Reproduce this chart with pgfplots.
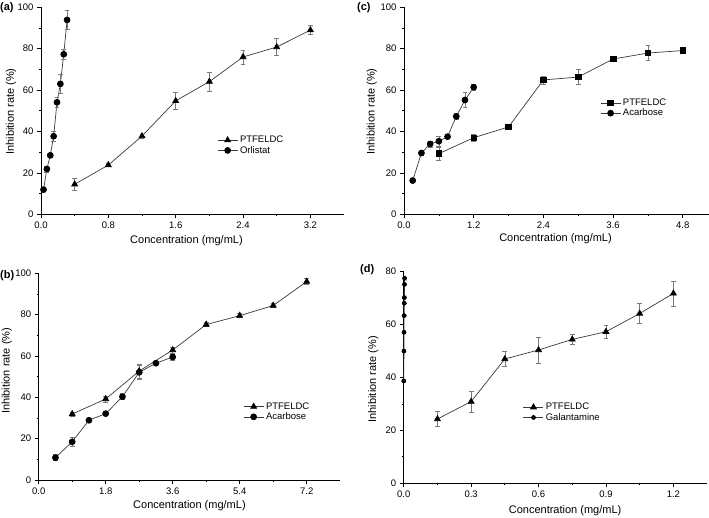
\documentclass[border=0pt]{standalone}
\usepackage{fontspec}
\setmainfont{Liberation Sans}
\usepackage{pgfplots}
\pgfplotsset{compat=1.18}
\definecolor{linegray}{HTML}{3A3A3A}
\definecolor{errgray}{HTML}{7A7A7A}

\pgfplotsset{
  panel/.style={
    scale only axis, axis lines*=left, ymin=0, xmin=0, clip=false,
    anchor=south west,
    tick align=outside, major tick length=4pt, minor tick length=2pt,
    minor x tick num=1, minor y tick num=1,
    axis line style={line width=0.7pt, black},
    every tick/.style={line width=0.7pt, black},
    tick label style={font=\fontsize{9.5}{11}\selectfont},
    label style={font=\fontsize{11}{13}\selectfont},
    /pgf/number format/assume math mode=true,
    x tick label style={/pgf/number format/.cd, fixed, fixed zerofill, precision=1, /tikz/.cd},
    legend style={draw=none, fill=none, font=\fontsize{9.5}{11}\selectfont,
      inner sep=0pt, row sep=0pt, nodes={inner sep=1pt}, anchor=west,
      /tikz/every odd column/.append style={column sep=1pt}},
    legend cell align=left,
    legend image code/.code={
      \draw[#1, mark=none] (0pt,0pt) -- (20pt,0pt);
      \draw[#1, only marks] plot coordinates {(10pt,0pt)};},
  },
  ser/.style={linegray, line width=0.7pt,
    mark options={black, fill=black, solid},
    error bars/.cd, y dir=both, y explicit,
    error bar style={errgray, line width=0.6pt},
    error mark options={rotate=90, errgray, mark size=2.4pt, line width=0.6pt},
    /pgfplots/.cd},
}

\begin{document}
\begin{tikzpicture}

% (a)
\begin{axis}[panel, at={(41pt,303.7pt)}, width=303.1pt, height=207pt,
  xmax=3.6, ymax=100, xtick={0,0.8,1.6,2.4,3.2}, ytick={0,20,...,100},
  xlabel={Concentration (mg/mL)}, ylabel={Inhibition rate (\%)},
  xlabel style={at={(axis description cs:0.48,-0.1275)}, anchor=center},
  ylabel style={at={(axis description cs:-0.099,0.496)}, anchor=center},
  legend style={at={(axis description cs:0.581,0.333)}}]
\addplot[ser, mark=triangle*, mark size=3.4pt] table[y error=e] {
x y e
0.4 14.5 3
0.8 23.8 0.8
1.2 37.8 1
1.6 54.8 4
2.0 64.1 4.7
2.4 76 3.4
2.8 80.8 4
3.2 89 2.2
};
\addplot[ser, mark=*, mark size=3pt] table[y error=e] {
x y e
0.03 11.9 0.5
0.07 21.9 1.5
0.11 28.5 1
0.15 37.7 2.5
0.19 54.1 2.5
0.23 63 4.7
0.27 77.3 2.2
0.31 93.9 4.5
};
\legend{PTFELDC, Orlistat}
\end{axis}

% (c)
\begin{axis}[panel, at={(404pt,303.7pt)}, width=304.9pt, height=207pt,
  xmax=5.25, ymax=100, xtick={0,1.2,2.4,3.6,4.8}, ytick={0,20,...,100},
  xlabel={Concentration (mg/mL)}, ylabel={Inhibition rate (\%)},
  xlabel style={at={(axis description cs:0.497,-0.119)}, anchor=center},
  ylabel style={at={(axis description cs:-0.106,0.496)}, anchor=center},
  legend style={at={(axis description cs:0.643,0.513)}}]
\addplot[ser, mark=square*, mark size=2.8pt] table[y error=e] {
x y e
0.6 29.3 3.3
1.2 37 1.5
1.8 42.2 1
2.4 64.9 2
3.0 66.3 3.6
3.6 75 1
4.2 77.9 3.7
4.8 79.1 1.5
};
\addplot[ser, mark=*, mark size=3pt] table[y error=e] {
x y e
0.15 16.3 1
0.3 29.6 1
0.45 34 1.5
0.6 35.3 2.5
0.75 37.5 1
0.9 47.3 1.5
1.05 55.2 3.5
1.2 61.4 1.5
};
\legend{PTFELDC, Acarbose}
\end{axis}

% (b)
\begin{axis}[panel, at={(38.7pt,38pt)}, width=301.5pt, height=206.7pt,
  xmax=8.1, ymax=100, xtick={0,1.8,3.6,5.4,7.2}, ytick={0,20,...,100},
  xlabel={Concentration (mg/mL)}, ylabel={Inhibition rate (\%)},
  xlabel style={at={(axis description cs:0.50,-0.124)}, anchor=center},
  ylabel style={at={(axis description cs:-0.106,0.528)}, anchor=center},
  legend style={at={(axis description cs:0.678,0.330)}}]
\addplot[ser, mark=triangle*, mark size=3.4pt] table[y error=e] {
x y e
0.9 31.9 1
1.8 39.2 1.5
2.7 52.7 3.5
3.6 62.9 1.5
4.5 75.2 1
5.4 79.5 1
6.3 84.4 1
7.2 96 1.5
};
\addplot[ser, mark=*, mark size=3pt] table[y error=e] {
x y e
0.45 10.8 1.5
0.9 18.5 2
1.35 28.9 1
1.8 32.1 0.5
2.25 40.3 1.5
2.7 52.1 3.5
3.15 56.5 1
3.6 59.5 1.5
};
\legend{PTFELDC, Acarbose}
\end{axis}

% (d)
\begin{axis}[panel, at={(403.7pt,34.7pt)}, width=303.4pt, height=211.6pt,
  xmax=1.35, ymax=80, xtick={0,0.3,0.6,0.9,1.2}, ytick={0,20,...,80},
  xlabel={Concentration (mg/mL)}, ylabel={Inhibition rate (\%)},
  xlabel style={at={(axis description cs:0.532,-0.131)}, anchor=center},
  ylabel style={at={(axis description cs:-0.100,0.492)}, anchor=center},
  legend style={at={(axis description cs:0.393,0.335)}}]
\addplot[ser, mark=triangle*, mark size=3.4pt] table[y error=e] {
x y e
0.15 24.3 2.9
0.3 30.9 4
0.45 47 2.8
0.6 50.4 4.9
0.75 54.4 1.8
0.9 57.3 2.6
1.05 64.2 3.7
1.2 71.8 4.7
};
\addplot[ser, mark=*, mark size=2pt] table[y error=e] {
x y e
0.0005 38.7 0
0.0010 50.0 0
0.0015 57.1 0
0.0020 63.4 0
0.0025 68.1 0
0.0030 70.2 0
0.0035 75.2 0
0.0040 77.5 0
};
\legend{PTFELDC, Galantamine}
\end{axis}

\node[anchor=west, font=\bfseries\fontsize{11}{13}\selectfont, inner sep=0pt] at (0pt,510.7pt) {(a)};
\node[anchor=west, font=\bfseries\fontsize{11}{13}\selectfont, inner sep=0pt] at (357pt,510.7pt) {(c)};
\node[anchor=west, font=\bfseries\fontsize{11}{13}\selectfont, inner sep=0pt] at (0pt,242.3pt) {(b)};
\node[anchor=west, font=\bfseries\fontsize{11}{13}\selectfont, inner sep=0pt] at (360pt,248pt) {(d)};

\pgfresetboundingbox
\path[use as bounding box] (0,0) rectangle (709pt,518pt);
\end{tikzpicture}
\end{document}
